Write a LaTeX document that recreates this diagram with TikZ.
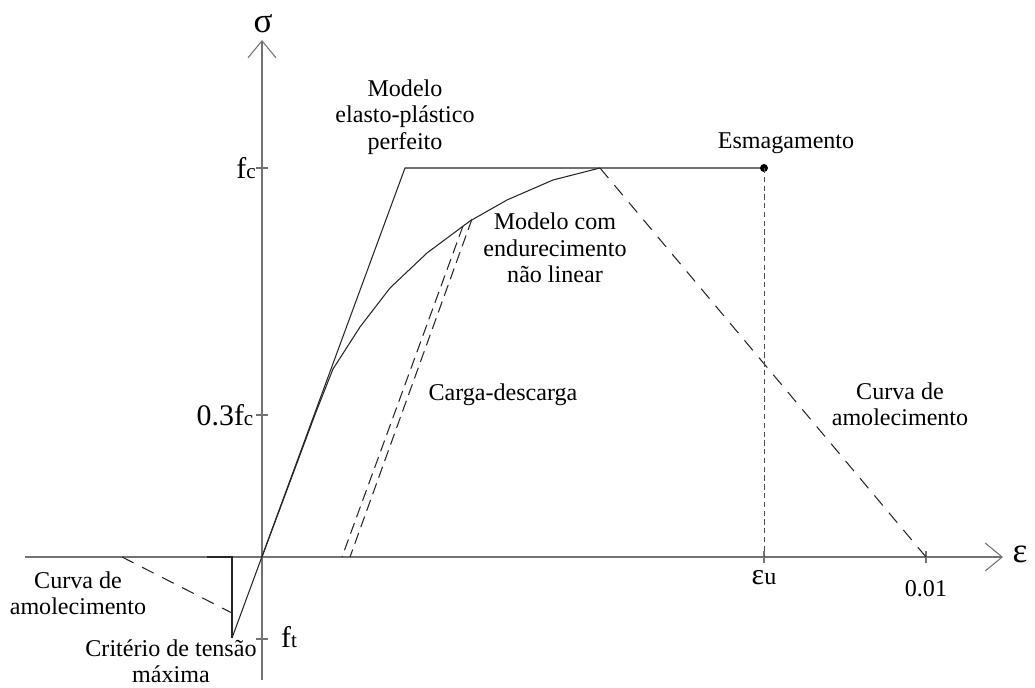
\documentclass[tikz,border=0pt]{standalone}
\usepackage{fontspec}
\setmainfont{Liberation Serif}
\usetikzlibrary{arrows.meta,positioning}

\begin{document}
\begin{tikzpicture}[x=0.02cm, y=-0.02cm,
        axis/.style={draw=black!55, line width=0.6pt},
        curve/.style={draw=black!85, line width=0.6pt},
        soft/.style={curve, dash pattern=on 7.4pt off 5.4pt},
        unload/.style={curve, dash pattern=on 6.5pt off 3.5pt},
        guide/.style={draw=black!70, line width=0.5pt, dash pattern=on 3pt off 2pt},
        label/.style={font=\fontsize{13.7}{15}\selectfont, align=center, inner sep=0pt},
        sym/.style={font=\fontsize{20}{20}\selectfont, inner sep=0pt},
        arrow/.style={-{Straight Barb[length=0.34cm, width=0.56cm]}}]

        \useasboundingbox (0,0) rectangle (1035,688);

        % axes
        \coordinate (orig) at (262,557);
        \coordinate (ybot) at (262,680);
        \coordinate (ytop) at (262,40);
        \coordinate (xleft) at (25,557);
        \coordinate (xright) at (1003,557);
        \draw[axis, arrow] (ybot) -- (ytop);
        \draw[axis, arrow] (xleft) -- (xright);
        \node[sym] (sigma) at (263,24) {σ};
        \node[sym] (eps) at (1020,554) {ε};

        % ticks
        \foreach \name/\y in {fc/168, fcc/415, ft/639} {
            \coordinate (\name l) at (256,\y);
            \coordinate (\name r) at (268,\y);
            \draw[axis] (\name l) -- (\name r);
        }
        \foreach \name/\x in {eu/764, lim/926} {
            \coordinate (\name a) at (\x,551);
            \coordinate (\name b) at (\x,563);
            \draw[axis] (\name a) -- (\name b);
        }
        \node[label] (fclab) at (246,168) {{\fontsize{17}{17}\selectfont f}{\fontsize{12}{12}\selectfont c}};
        \node[label] (fcclab) at (225,415) {{\fontsize{17}{17}\selectfont 0.3f}{\fontsize{12}{12}\selectfont c}};
        \node[label] (ftlab) at (289,637) {{\fontsize{17}{17}\selectfont f}{\fontsize{12}{12}\selectfont t}};
        \node[label] (eulab) at (764,578) {{\fontsize{17}{17}\selectfont ε}{\fontsize{13.7}{13.7}\selectfont u}};
        \node[label] (limlab) at (926,589) {0.01};

        % elasto-plastico perfeito
        \coordinate (tpeak) at (232,638);
        \coordinate (yield) at (405,168);
        \coordinate (crush) at (764,168);
        \draw[curve] (tpeak) -- (yield) -- (crush);
        \fill[black] (crush) circle (4);

        % tensao maxima
        \coordinate (tleft) at (207,557);
        \coordinate (tcorner) at (232,557);
        \coordinate (tsoft) at (232,613);
        \coordinate (tzero) at (122,557);
        \draw[curve, line width=1.1pt] (tleft) -- (tcorner) -- (tpeak);
        \draw[soft] (tzero) -- (tsoft);

        % endurecimento nao linear
        \coordinate (peak) at (600,168);
        \draw[curve] (orig) -- (316,412) -- (333,369) -- (360,327) -- (390,288)
            -- (427,253) -- (470,221) -- (507,200) -- (553,180) -- (peak);

        % carga-descarga
        \coordinate (ua) at (463,226);
        \coordinate (ub) at (342,557);
        \coordinate (uc) at (472,219);
        \coordinate (ud) at (350,557);
        \draw[unload] (ua) -- (ub);
        \draw[unload] (uc) -- (ud);

        % amolecimento
        \coordinate (zero) at (926,557);
        \draw[soft] (peak) -- (zero);
        \coordinate (eubot) at (764,557);
        \draw[guide] (crush) -- (eubot);

        % textos
        \node[label] (elasto) at (405,117) {Modelo\\elasto-plástico\\perfeito};
        \node[label] (nonlin) at (555,248) {Modelo com\\endurecimento\\não linear};
        \node[label] (esmag) at (786,143) {Esmagamento};
        \node[label] (carga) at (503,395) {Carga-descarga};
        \node[label] (amolr) at (900,404) {Curva de\\amolecimento};
        \node[label] (amoll) at (78,593) {Curva de\\amolecimento};
        \node[label] (crit) at (171,661) {Critério de tensão\\máxima};
\end{tikzpicture}
\end{document}
